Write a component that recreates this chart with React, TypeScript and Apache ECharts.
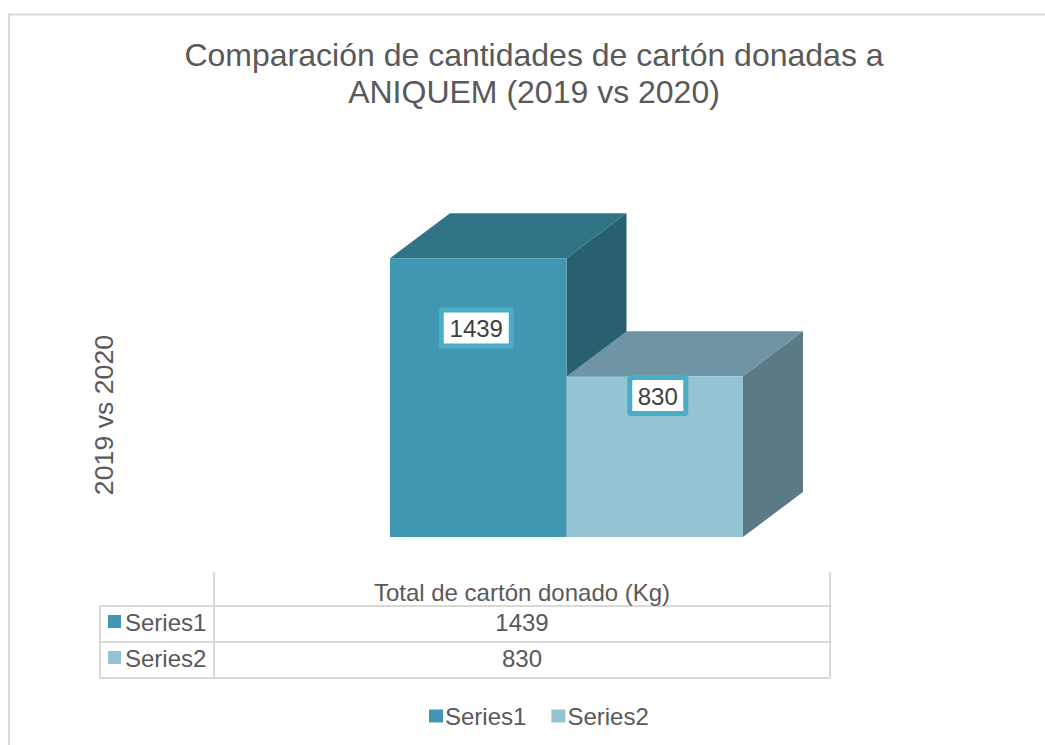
import React, { useEffect, useRef } from "react";
import * as echarts from "echarts";

const titleText = "Comparación de cantidades de cartón donadas a\nANIQUEM (2019 vs 2020)";
const yAxisTitle = "2019 vs 2020";
const tableHeader = "Total de cartón donado (Kg)";
const seriesNames = ["Series1", "Series2"];
const seriesValues = [1439, 830];
const labelAnchors = [1079, 730];
const labelNudge = [-2, 3];

const frontColors = ["#4197b2", "#94c3d4"];
const topColors = ["#317485", "#6f94a3"];
const sideColors = ["#27606f", "#5c7a85"];
const labelBorder = "#4bacc6";
const textColor = "#595959";
const gridLine = "#d9d9d9";
const FONT = "'Liberation Sans', Arial, sans-serif";
const DEPTH_X = 60;
const DEPTH_Y = 45;

function makeRenderItem(index: number) {
  return (params: any, api: any) => {
    const cat = api.value(0);
    const [xCenter, yTop] = api.coord([cat, api.value(1)]);
    const [, yBase] = api.coord([cat, 0]);
    const width = api.size([1, 0])[0];
    const x0 = xCenter - width / 2;
    const x1 = xCenter + width / 2;
    const [, labelY] = api.coord([cat, labelAnchors[index]]);
    return {
      type: "group",
      children: [
        {
          type: "polygon",
          shape: { points: [[x0, yTop], [x0 + DEPTH_X, yTop - DEPTH_Y], [x1 + DEPTH_X, yTop - DEPTH_Y], [x1, yTop]] },
          style: { fill: topColors[index] },
        },
        {
          type: "polygon",
          shape: { points: [[x1, yTop], [x1 + DEPTH_X, yTop - DEPTH_Y], [x1 + DEPTH_X, yBase - DEPTH_Y], [x1, yBase]] },
          style: { fill: sideColors[index] },
        },
        {
          type: "rect",
          shape: { x: x0, y: yTop, width: x1 - x0, height: yBase - yTop },
          style: { fill: frontColors[index] },
        },
        {
          type: "rect",
          shape: {
            x: xCenter + labelNudge[index] - (index === 0 ? 35 : 28),
            y: labelY - 18,
            width: index === 0 ? 70 : 56,
            height: 36,
            r: 1,
          },
          style: { fill: "#ffffff", stroke: labelBorder, lineWidth: 5 },
        },
        {
          type: "text",
          style: {
            x: xCenter + labelNudge[index],
            y: labelY + 1,
            text: String(api.value(1)),
            fill: "#404040",
            font: `24px ${FONT}`,
            align: "center",
            verticalAlign: "middle",
          },
        },
      ],
    };
  };
}

function tableGraphics() {
  const line = (x1: number, y1: number, x2: number, y2: number) => ({
    type: "line",
    shape: { x1, y1, x2, y2 },
    style: { stroke: gridLine, lineWidth: 2 },
  });
  const text = (x: number, y: number, t: string, align: string = "center") => ({
    type: "text",
    style: { x, y, text: t, fill: textColor, font: `24px ${FONT}`, align, verticalAlign: "middle" },
  });
  const rowYs = [622, 658];
  const out: any[] = [
    line(214, 572, 214, 678),
    line(830, 572, 830, 678),
    line(100, 606, 830, 606),
    line(100, 642, 830, 642),
    line(100, 678, 830, 678),
    line(100, 606, 100, 678),
    text(522, 592, tableHeader),
  ];
  seriesNames.forEach((name, i) => {
    out.push({
      type: "rect",
      shape: { x: 108, y: rowYs[i] - 7, width: 13, height: 13 },
      style: { fill: frontColors[i] },
    });
    out.push(text(125, rowYs[i], name, "left"));
    out.push(text(522, rowYs[i], String(seriesValues[i])));
  });
  return out;
}

export default function App() {
  const ref = useRef<HTMLDivElement>(null);
  useEffect(() => {
    const chart = echarts.init(ref.current!, undefined, { renderer: "svg" });
    chart.setOption({
      animation: false,
      backgroundColor: "#ffffff",
      title: {
        text: titleText,
        left: 529,
        top: 31,
        textAlign: "center",
        textStyle: { fontFamily: FONT, fontSize: 32, fontWeight: "normal", color: textColor, lineHeight: 37 },
      },
      legend: {
        data: seriesNames,
        left: 424,
        top: 699,
        itemWidth: 14,
        itemHeight: 13,
        itemGap: 25,
        icon: "rect",
        textStyle: { fontFamily: FONT, fontSize: 24, color: textColor, padding: [0, 0, 0, -3] },
      },
      grid: { left: 390, width: 353, top: 227, height: 310 },
      xAxis: { type: "category", data: seriesNames, show: false },
      yAxis: { type: "value", min: 0, max: 1600, show: false },
      series: seriesNames.map((name, i) => ({
        type: "custom",
        name,
        color: frontColors[i],
        itemStyle: { color: frontColors[i] },
        renderItem: makeRenderItem(i),
        encode: { x: 0, y: 1 },
        data: [[i, seriesValues[i]]],
      })),
      graphic: [
        {
          type: "polyline",
          shape: { points: [[9, 745], [9, 14.5], [1045, 14.5]] },
          style: { stroke: gridLine, fill: "none", lineWidth: 2 },
        },
        {
          type: "text",
          x: 104,
          y: 415,
          rotation: Math.PI / 2,
          style: { text: yAxisTitle, fill: textColor, font: `26.7px ${FONT}`, align: "center", verticalAlign: "middle" },
        },
        ...tableGraphics(),
      ],
    });
    return () => chart.dispose();
  }, []);
  return <div ref={ref} style={{ position: "fixed", left: 0, top: 0, width: 1045, height: 745 }} />;
}
